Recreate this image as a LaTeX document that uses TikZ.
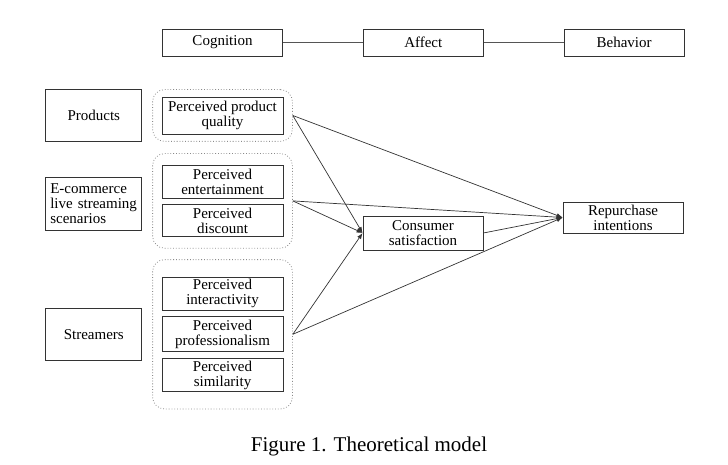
\documentclass[tikz,border=0pt]{standalone}
\usepackage{fontspec}
\setmainfont{Liberation Serif}
\usetikzlibrary{arrows.meta,positioning,fit}
\definecolor{inkdark}{HTML}{333333}
\definecolor{linegrey}{HTML}{555555}
\definecolor{dotgrey}{HTML}{8A8A8A}
\tikzset{
  plainbox/.style = {draw=inkdark, line width=0.8pt, align=center, inner sep=2pt,
                     minimum width=120pt, font=\fontsize{15}{15}\selectfont},
  groupbox/.style = {draw=dotgrey, dotted, line width=0.8pt, rounded corners=12pt,
                     inner xsep=9pt},
  link/.style     = {draw=linegrey, line width=0.8pt},
  flow/.style     = {-{Latex[length=6pt,width=4.5pt]}, draw=inkdark, line width=0.7pt},
}
\begin{document}
\begin{tikzpicture}[x=1pt, y=-1pt, node distance=6pt]
    \useasboundingbox (0,0) rectangle (728,465);
    % header row
    \node[plainbox,minimum height=27pt] (cog) at (222.5,42.5) {Cognition};
    \node[plainbox,minimum height=27pt,right=80pt of cog] (aff) {Affect};
    \node[plainbox,minimum height=27pt,right=80pt of aff] (beh) {Behavior};
    \draw[link] (cog) -- (aff);
    \draw[link] (aff) -- (beh);
    % products
    \node[plainbox,minimum width=121pt,minimum height=37pt] (pq) at (222.5,115.5) {Perceived product\\quality};
    \node[groupbox,inner ysep=7pt,fit=(pq)] (gprod) {};
    \node[plainbox,minimum width=96pt,minimum height=52pt,left=10pt of gprod] (prod) {Products};
    % scenarios
    \node[plainbox,minimum width=121pt,minimum height=33pt] (pe) at (222.5,181.5) {Perceived\\entertainment};
    \node[plainbox,minimum width=121pt,minimum height=32pt,below=6pt of pe] (pd) {Perceived\\discount};
    \node[groupbox,inner ysep=11pt,fit=(pe)(pd)] (gscen) {};
    \node[plainbox,minimum width=96pt,text width=87pt,inner xsep=4pt,align=left,minimum height=52pt,
          left=10pt of gscen,yshift=-3pt] (ecom) {E-commerce\\live streaming\\scenarios};
    % streamers
    \node[plainbox,minimum width=121pt,minimum height=33pt] (pi) at (222.5,293.5) {Perceived\\interactivity};
    \node[plainbox,minimum width=121pt,minimum height=35pt,below=6pt of pi] (pp) {Perceived\\professionalism};
    \node[plainbox,minimum width=121pt,minimum height=33pt,below=6pt of pp] (ps) {Perceived\\similarity};
    \node[groupbox,inner ysep=17pt,fit=(pi)(ps)] (gstrm) {};
    \node[plainbox,minimum width=96pt,minimum height=52pt,left=10pt of gstrm] (strm) {Streamers};
    % outcomes
    \node[plainbox,minimum height=34pt] (cs) at (423,233) {Consumer\\satisfaction};
    \node[plainbox,minimum height=31pt] (rep) at (623,217.5) {Repurchase\\intentions};
    \foreach \g in {gprod,gscen,gstrm} {
      \draw[flow] (\g.east) -- (cs.west);
      \draw[flow] (\g.east) -- (rep.west);
    }
    \draw[flow] (cs.east) -- (rep.west);
    \node[font=\fontsize{21}{21}\selectfont] (cap) at (369,446) {Figure 1. Theoretical model};
  \end{tikzpicture}
\end{document}
